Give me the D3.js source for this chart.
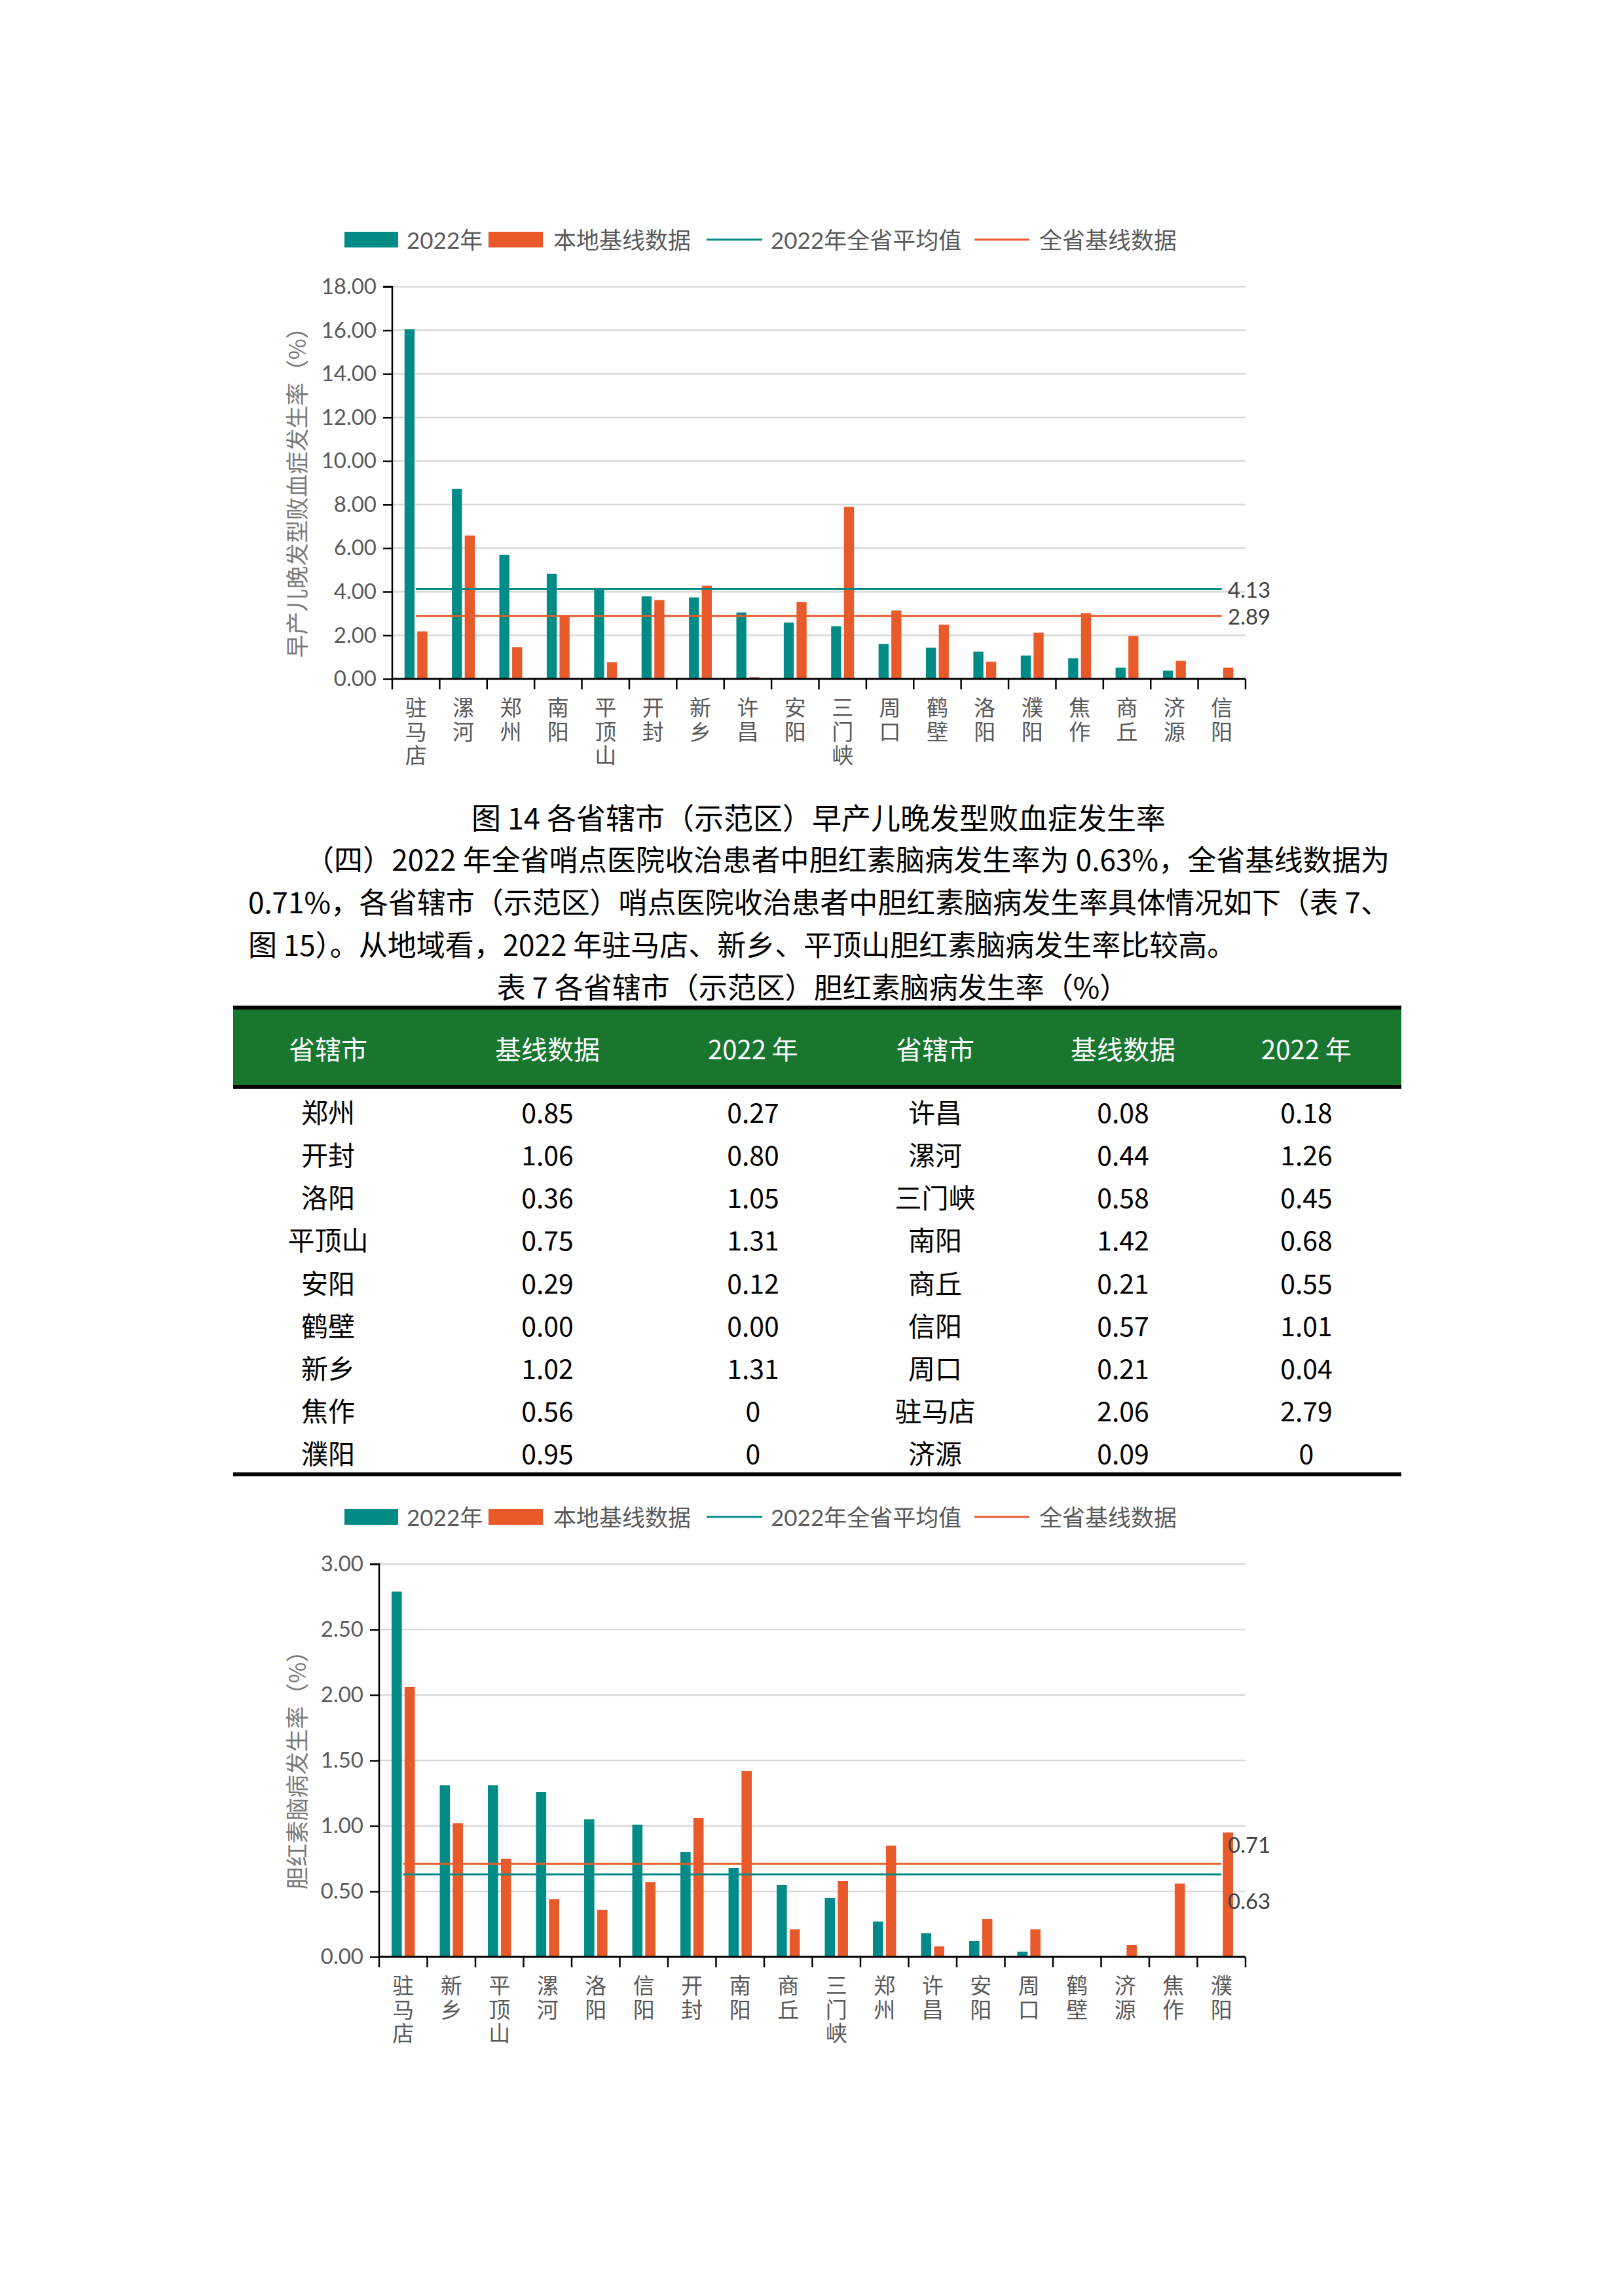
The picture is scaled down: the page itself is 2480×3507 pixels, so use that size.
<!DOCTYPE html>
<html><head><meta charset="utf-8">
<script src="https://cdn.jsdelivr.net/npm/d3@7/dist/d3.min.js"></script>
<style>html,body{margin:0;padding:0;background:#fff;}</style>
</head><body>
<script>
// ---------- DATA ----------
const chart1Cats = ['驻马店','漯河','郑州','南阳','平顶山','开封','新乡','许昌','安阳','三门峡','周口','鹤壁','洛阳','濮阳','焦作','商丘','济源','信阳'];
const chart1Y2022 = [16.05,8.72,5.69,4.82,4.15,3.79,3.74,3.05,2.59,2.42,1.60,1.43,1.25,1.07,0.95,0.52,0.38,0];
const chart1Base = [2.18,6.58,1.46,2.90,0.77,3.62,4.28,0.08,3.53,7.90,3.14,2.49,0.79,2.12,3.02,1.97,0.83,0.52];
const chart1Avg = 4.13, chart1ProvBase = 2.89;
const chart1Ticks = [0,2,4,6,8,10,12,14,16,18];

const chart2Cats = ['驻马店','新乡','平顶山','漯河','洛阳','信阳','开封','南阳','商丘','三门峡','郑州','许昌','安阳','周口','鹤壁','济源','焦作','濮阳'];
const chart2Y2022 = [2.79,1.31,1.31,1.26,1.05,1.01,0.80,0.68,0.55,0.45,0.27,0.18,0.12,0.04,0,0,0,0];
const chart2Base = [2.06,1.02,0.75,0.44,0.36,0.57,1.06,1.42,0.21,0.58,0.85,0.08,0.29,0.21,0,0.09,0.56,0.95];
const chart2Avg = 0.63, chart2ProvBase = 0.71;
const chart2Ticks = [0,0.5,1,1.5,2,2.5,3];

const legendLabels = ['2022年','本地基线数据','2022年全省平均值','全省基线数据'];

const tableHeader = ['省辖市','基线数据','2022 年','省辖市','基线数据','2022 年'];
const tableLeftCity = ['郑州','开封','洛阳','平顶山','安阳','鹤壁','新乡','焦作','濮阳'];
const tableLeftBase = ['0.85','1.06','0.36','0.75','0.29','0.00','1.02','0.56','0.95'];
const tableLeft2022 = ['0.27','0.80','1.05','1.31','0.12','0.00','1.31','0','0'];
const tableRightCity = ['许昌','漯河','三门峡','南阳','商丘','信阳','周口','驻马店','济源'];
const tableRightBase = ['0.08','0.44','0.58','1.42','0.21','0.57','0.21','2.06','0.09'];
const tableRight2022 = ['0.18','1.26','0.45','0.68','0.55','1.01','0.04','2.79','0'];

const caption14 = '图 14  各省辖市（示范区）早产儿晚发型败血症发生率';
const bodyLines = [
  '（四）2022 年全省哨点医院收治患者中胆红素脑病发生率为 0.63%，全省基线数据为',
  '0.71%，各省辖市（示范区）哨点医院收治患者中胆红素脑病发生率具体情况如下（表 7、',
  '图 15）。从地域看，2022 年驻马店、新乡、平顶山胆红素脑病发生率比较高。'
];
const tableTitle = '表 7  各省辖市（示范区）胆红素脑病发生率（%）';

// ---------- STYLE ----------
const TEAL = '#008B86', ORANGE = '#E85A2A', GRID = '#D9D9D9', TXT = '#595959';
const NUMFONT = "Lato, 'Noto Sans CJK SC', sans-serif";
const CJK = "'Noto Sans CJK SC', sans-serif";

const svg = d3.select('body').append('svg').attr('width',2480).attr('height',3507);
svg.append('rect').attr('width',2480).attr('height',3507).attr('fill','#fff');

function drawChart(o){
  const g = svg.append('g');
  const x = d3.scaleBand().domain(o.cats).range([o.x0, o.x1]).paddingInner(0).paddingOuter(0);
  const y = d3.scaleLinear().domain([0, o.yMax]).range([o.yBot, o.yTop]);
  const bw = x.bandwidth();
  const barW = bw*0.212, gap = bw*0.058;

  // gridlines
  g.selectAll('.grid').data(o.ticks.filter(t=>t>0)).enter().append('line')
    .attr('x1', o.x0).attr('x2', o.x1).attr('y1', d=>y(d)).attr('y2', d=>y(d))
    .attr('stroke', GRID).attr('stroke-width', 2.5);

  // bars
  g.selectAll('.bt').data(o.cats).enter().append('rect')
    .attr('x', d=>x(d)+bw/2-gap/2-barW).attr('width', barW)
    .attr('y', (d,i)=>y(o.a[i])).attr('height', (d,i)=>y(0)-y(o.a[i]))
    .attr('fill', TEAL);
  g.selectAll('.bo').data(o.cats).enter().append('rect')
    .attr('x', d=>x(d)+bw/2+gap/2).attr('width', barW)
    .attr('y', (d,i)=>y(o.b[i])).attr('height', (d,i)=>y(0)-y(o.b[i]))
    .attr('fill', ORANGE);

  // reference lines (category centre to centre)
  const xs = x(o.cats[0])+bw/2, xe = x(o.cats[o.cats.length-1])+bw/2;
  g.append('line').attr('x1',xs).attr('x2',xe).attr('y1',y(o.base)).attr('y2',y(o.base))
    .attr('stroke',ORANGE).attr('stroke-width',3);
  g.append('line').attr('x1',xs).attr('x2',xe).attr('y1',y(o.avg)).attr('y2',y(o.avg))
    .attr('stroke',TEAL).attr('stroke-width',3);

  // y axis
  const yAxis = d3.axisLeft(y).tickValues(o.ticks).tickFormat(d3.format('.2f')).tickSize(14).tickPadding(10);
  const ya = g.append('g').attr('transform',`translate(${o.x0},0)`).call(yAxis);
  ya.select('.domain').attr('stroke','#000').attr('stroke-width',2.5).attr('d',`M-14,${o.yTop}H0V${o.yBot}`);
  ya.selectAll('.tick line').attr('stroke','#000').attr('stroke-width',2.5);
  ya.selectAll('.tick text').attr('font-family',NUMFONT).attr('font-size',33).attr('fill',TXT);

  // x axis line and ticks at band boundaries
  g.append('line').attr('x1',o.x0).attr('x2',o.x1).attr('y1',y(0)).attr('y2',y(0))
    .attr('stroke','#000').attr('stroke-width',3);
  const bounds = o.cats.map(c=>x(c)).concat([o.x1]);
  g.selectAll('.xt').data(bounds).enter().append('line')
    .attr('x1',d=>d).attr('x2',d=>d).attr('y1',y(0)).attr('y2',y(0)+16)
    .attr('stroke','#000').attr('stroke-width',2.5);

  // category labels (vertical writing)
  g.selectAll('.cl').data(o.cats).enter().append('text')
    .attr('x', d=>x(d)+bw/2).attr('y', y(0)+27)
    .style('writing-mode','vertical-rl').attr('letter-spacing',3.5)
    .attr('font-family',CJK).attr('font-size',33).attr('fill',TXT).text(d=>d);

  // value labels
  g.append('text').attr('x',o.x1-27).attr('y',y(o.avg)+o.avgDy).attr('dominant-baseline','central')
    .attr('font-family',NUMFONT).attr('font-size',33).attr('fill','#404040').text(o.avg.toFixed(2));
  g.append('text').attr('x',o.x1-27).attr('y',y(o.base)+o.baseDy).attr('dominant-baseline','central')
    .attr('font-family',NUMFONT).attr('font-size',33).attr('fill','#404040').text(o.base.toFixed(2));

  // y title
  const ty = (o.yTop+o.yBot)/2+6;
  g.append('text').attr('transform',`translate(451,${ty}) rotate(-90)`).attr('text-anchor','middle')
    .attr('dominant-baseline','central').attr('font-family',CJK).attr('font-size',35)
    .attr('fill','#7a7a7a').text(o.title);

  // legend
  const ly = o.yTop-72;
  const lg = g.append('g');
  lg.append('rect').attr('x',526).attr('y',ly-12).attr('width',82).attr('height',24).attr('fill',TEAL);
  lg.append('rect').attr('x',746).attr('y',ly-12).attr('width',83).attr('height',24).attr('fill',ORANGE);
  lg.append('line').attr('x1',1079).attr('x2',1164).attr('y1',ly).attr('y2',ly).attr('stroke',TEAL).attr('stroke-width',3);
  lg.append('line').attr('x1',1488).attr('x2',1572).attr('y1',ly).attr('y2',ly).attr('stroke',ORANGE).attr('stroke-width',3);
  const lx = [621, 845, 1177, 1587];
  lg.selectAll('.lt').data(legendLabels).enter().append('text')
    .attr('x',(d,i)=>lx[i]).attr('y',ly).attr('dominant-baseline','central')
    .attr('font-family',NUMFONT).attr('font-size',35).attr('fill',TXT).text(d=>d);
}

drawChart({cats:chart1Cats, a:chart1Y2022, b:chart1Base, avg:chart1Avg, base:chart1ProvBase,
  yMax:18, ticks:chart1Ticks, x0:599, x1:1902, yTop:438, yBot:1037, avgDy:0, baseDy:0,
  title:'早产儿晚发型败血症发生率（%）'});
drawChart({cats:chart2Cats, a:chart2Y2022, b:chart2Base, avg:chart2Avg, base:chart2ProvBase,
  yMax:3, ticks:chart2Ticks, x0:579, x1:1902, yTop:2389, yBot:2989, avgDy:40, baseDy:-30,
  title:'胆红素脑病发生率（%）'});

// ---------- TEXT ----------
svg.append('text').attr('x',1250).attr('y',1247).attr('text-anchor','middle').attr('dominant-baseline','central')
  .attr('font-family',CJK).attr('font-size',45).attr('fill','#000').text(caption14);
const bodyX = [466, 379, 379], bodyY = [1311, 1376, 1441];
bodyLines.forEach((s,i)=>{
  const t = svg.append('text').attr('x',bodyX[i]).attr('y',bodyY[i]).attr('dominant-baseline','central')
    .attr('font-family',CJK).attr('font-size',44).attr('fill','#000').text(s);
  if(i<2) t.attr('textLength', 2122-bodyX[i]).attr('lengthAdjust','spacing');
});
svg.append('text').attr('x',1241).attr('y',1506).attr('text-anchor','middle').attr('dominant-baseline','central')
  .attr('font-family',CJK).attr('font-size',44).attr('fill','#000').text(tableTitle);

// ---------- TABLE ----------
const tX0 = 356, tX1 = 2140;
const colX = [501, 836, 1150, 1428, 1715, 1995];
svg.append('rect').attr('x',tX0).attr('y',1539).attr('width',tX1-tX0).attr('height',121).attr('fill','#18762F');
svg.append('line').attr('x1',tX0).attr('x2',tX1).attr('y1',1539).attr('y2',1539).attr('stroke','#000').attr('stroke-width',6);
svg.append('line').attr('x1',tX0).attr('x2',tX1).attr('y1',1660).attr('y2',1660).attr('stroke','#000').attr('stroke-width',6);
svg.append('line').attr('x1',tX0).attr('x2',tX1).attr('y1',2252).attr('y2',2252).attr('stroke','#000').attr('stroke-width',6);
svg.selectAll('.th').data(tableHeader).enter().append('text')
  .attr('x',(d,i)=>colX[i]).attr('y',1601).attr('text-anchor','middle').attr('dominant-baseline','central')
  .attr('font-family',CJK).attr('font-size',40).attr('fill','#fff').text(d=>d);
const cols = [tableLeftCity, tableLeftBase, tableLeft2022, tableRightCity, tableRightBase, tableRight2022];
const rowY = d3.scaleLinear().domain([0,8]).range([1697,2218]);
cols.forEach((col,ci)=>{
  svg.selectAll('.c'+ci).data(col).enter().append('text')
    .attr('x',colX[ci]).attr('y',(d,i)=>rowY(i)).attr('text-anchor','middle').attr('dominant-baseline','central')
    .attr('font-family',CJK).attr('font-size',41).attr('fill','#000').text(d=>d);
});
</script>
</body></html>
